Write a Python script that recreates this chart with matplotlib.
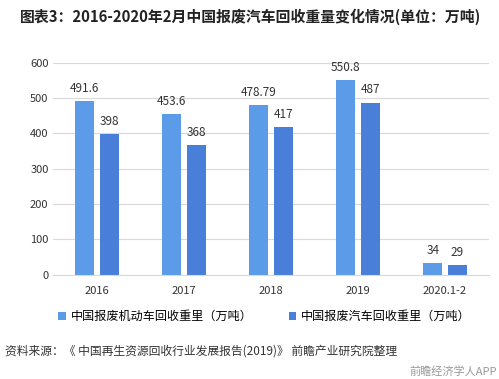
import numpy as np
import matplotlib
matplotlib.use("Agg")
import matplotlib.pyplot as plt

plt.rcParams["font.family"] = ["Noto Sans CJK SC", "DejaVu Sans"]

categories = ["2016", "2017", "2018", "2019", "2020.1-2"]
motor_vehicle = [491.6, 453.6, 478.79, 550.8, 34]
car = [398, 368, 417, 487, 29]
motor_labels = ["491.6", "453.6", "478.79", "550.8", "34"]
car_labels = ["398", "368", "417", "487", "29"]

color_motor = "#5b9be8"
color_car = "#4a7fd9"

fig = plt.figure(figsize=(4.99, 3.79), dpi=100)
ax = fig.add_axes([0.107, 0.275, 0.872, 0.56])

x = np.arange(len(categories))
w = 0.22
b1 = ax.bar(x - 0.14, motor_vehicle, w, color=color_motor, label="中国报废机动车回收重里（万吨）")
b2 = ax.bar(x + 0.14, car, w, color=color_car, label="中国报废汽车回收重里（万吨）")

for rect, lab in zip(b1, motor_labels):
    ax.text(rect.get_x() + rect.get_width() / 2, rect.get_height() + 17, lab,
            ha="center", va="bottom", fontsize=8.5, color="#333333")
for rect, lab in zip(b2, car_labels):
    ax.text(rect.get_x() + rect.get_width() / 2, rect.get_height() + 17, lab,
            ha="center", va="bottom", fontsize=8.5, color="#333333")

ax.set_ylim(0, 600)
ax.set_xlim(-0.5, 4.5)
ax.set_yticks(range(0, 601, 100))
ax.set_xticks(x)
ax.set_xticklabels(categories)
ax.grid(axis="y", color="#d9d9d9", linewidth=0.8)
ax.set_axisbelow(True)
for s in ["top", "right", "left"]:
    ax.spines[s].set_visible(False)
ax.spines["bottom"].set_color("#d9d9d9")
ax.tick_params(axis="both", length=0, labelsize=8, colors="#333333")
ax.tick_params(axis="x", pad=8)

fig.legend(loc="center", bbox_to_anchor=(0.53, 0.165), ncol=2, frameon=False,
           fontsize=8.7, handlelength=0.6, handleheight=0.6, columnspacing=3,
           handletextpad=0.4)

fig.text(0.04, 0.955, "图表3：2016-2020年2月中国报废汽车回收重量变化情况(单位：万吨)",
         fontsize=10.7, fontweight="bold", color="#222222", va="center")
fig.text(0.01, 0.075, "资料来源：《 中国再生资源回收行业发展报告(2019)》 前瞻产业研究院整理",
         fontsize=8.5, color="#333333", va="center")
fig.text(0.995, 0.02, "前瞻经济学人APP", fontsize=8, color="#999999",
         ha="right", va="center")

fig.savefig("out.png", dpi=100)
